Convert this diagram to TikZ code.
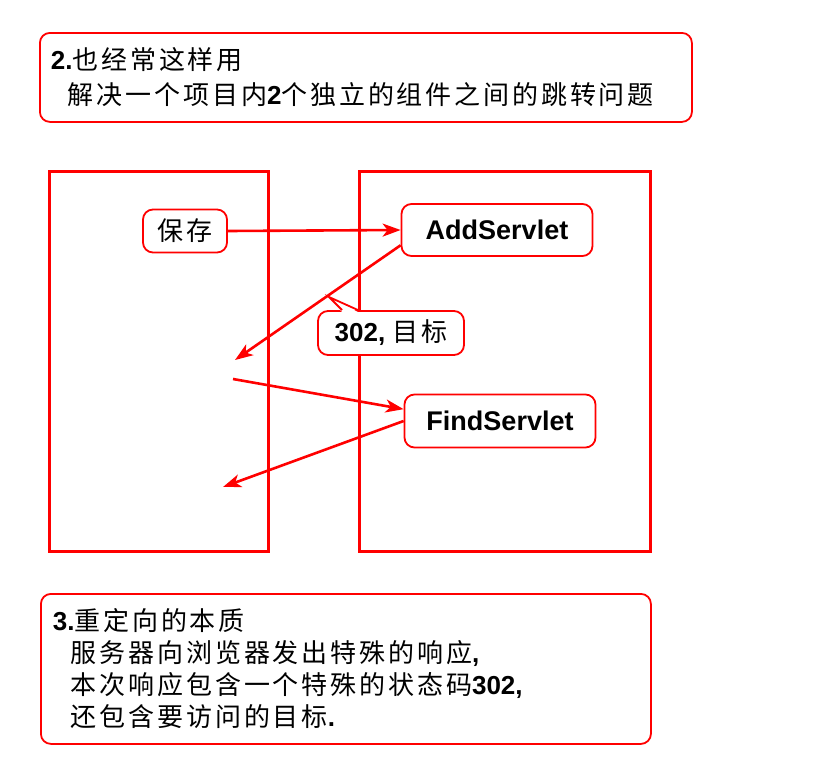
\documentclass[tikz,border=0pt]{standalone}
\usepackage{fontspec}
\setmainfont{Liberation Sans}
\newfontfamily\cjk[LetterSpace=11]{Noto Sans CJK SC}
\usetikzlibrary{arrows.meta,calc}

\begin{document}
\begin{tikzpicture}[x=1pt, y=-1pt,
    note/.style={rectangle, draw=red, line width=1.8pt, rounded corners=10pt, fill=white, anchor=north west, align=left, inner xsep=11pt},
    panel/.style={rectangle, draw=red, line width=3pt, anchor=north west},
    servlet/.style={rectangle, draw=red, line width=1.8pt, rounded corners=10pt, fill=white, font=\fontsize{27}{32}\selectfont\bfseries},
    flow/.style={-{Stealth[length=18pt, width=13pt, inset=5pt]}, red, line width=2.6pt}]

\useasboundingbox (0,0) rectangle (816,763);

% the two notes
\node[note, minimum width=652, minimum height=89, text width=630pt, font=\fontsize{26}{35}\selectfont] (usage) at (39,32)
  {{\bfseries 2.}{\cjk 也经常这样用}\\\hspace*{17pt}{\cjk 解决一个项目内}{\bfseries 2}{\cjk 个独立的组件之间的跳转问题}};
\node[note, minimum width=610, minimum height=150, text width=586pt, inner xsep=12pt, font=\fontsize{26}{32}\selectfont] (essence) at (40,593)
  {{\bfseries 3.}{\cjk 重定向的本质}\\
   \hspace*{18pt}{\cjk 服务器向浏览器发出特殊的响应}{\bfseries ,}\\
   \hspace*{18pt}{\cjk 本次响应包含一个特殊的状态码}{\bfseries 302,}\\
   \hspace*{18pt}{\cjk 还包含要访问的目标}{\bfseries .}};

% browser and server
\node[panel, minimum width=219, minimum height=380] (browser) at (48,170) {};
\node[panel, minimum width=291, minimum height=380] (server) at (358,170) {};

\node[servlet, minimum width=84, minimum height=43, font=\fontsize{26}{30}\selectfont\cjk] (save) at (185,231) {保存};
\node[servlet, minimum width=191, minimum height=52] (add) at (497,230) {AddServlet};
\node[servlet, minimum width=191, minimum height=53] (find) at (500,421) {FindServlet};

\coordinate (back1) at (235,360);
\coordinate (fwd) at (233,379);
\coordinate (back2) at (223,487);
\coordinate (tip) at (329,297);

\draw[flow] (save.east) -- (add.west);
\draw[flow] (add.189) -- (back1);
\draw[flow] (fwd) -- (find.173);
\draw[flow] (find.west) -- (back2);

% 302 callout
\node[servlet, minimum width=146, minimum height=44, font=\fontsize{26}{30}\selectfont] (tag) at (391,333) {{\bfseries 302,} {\cjk 目标}};
\fill[white] ($(tag.north west)+(25,2)$) -- (tip) -- ($(tag.north west)+(41,2)$) -- cycle;
\draw[red, line width=1.8pt] ($(tag.north west)+(25,0)$) -- (tip) -- ($(tag.north west)+(41,0)$);
\end{tikzpicture}
\end{document}
